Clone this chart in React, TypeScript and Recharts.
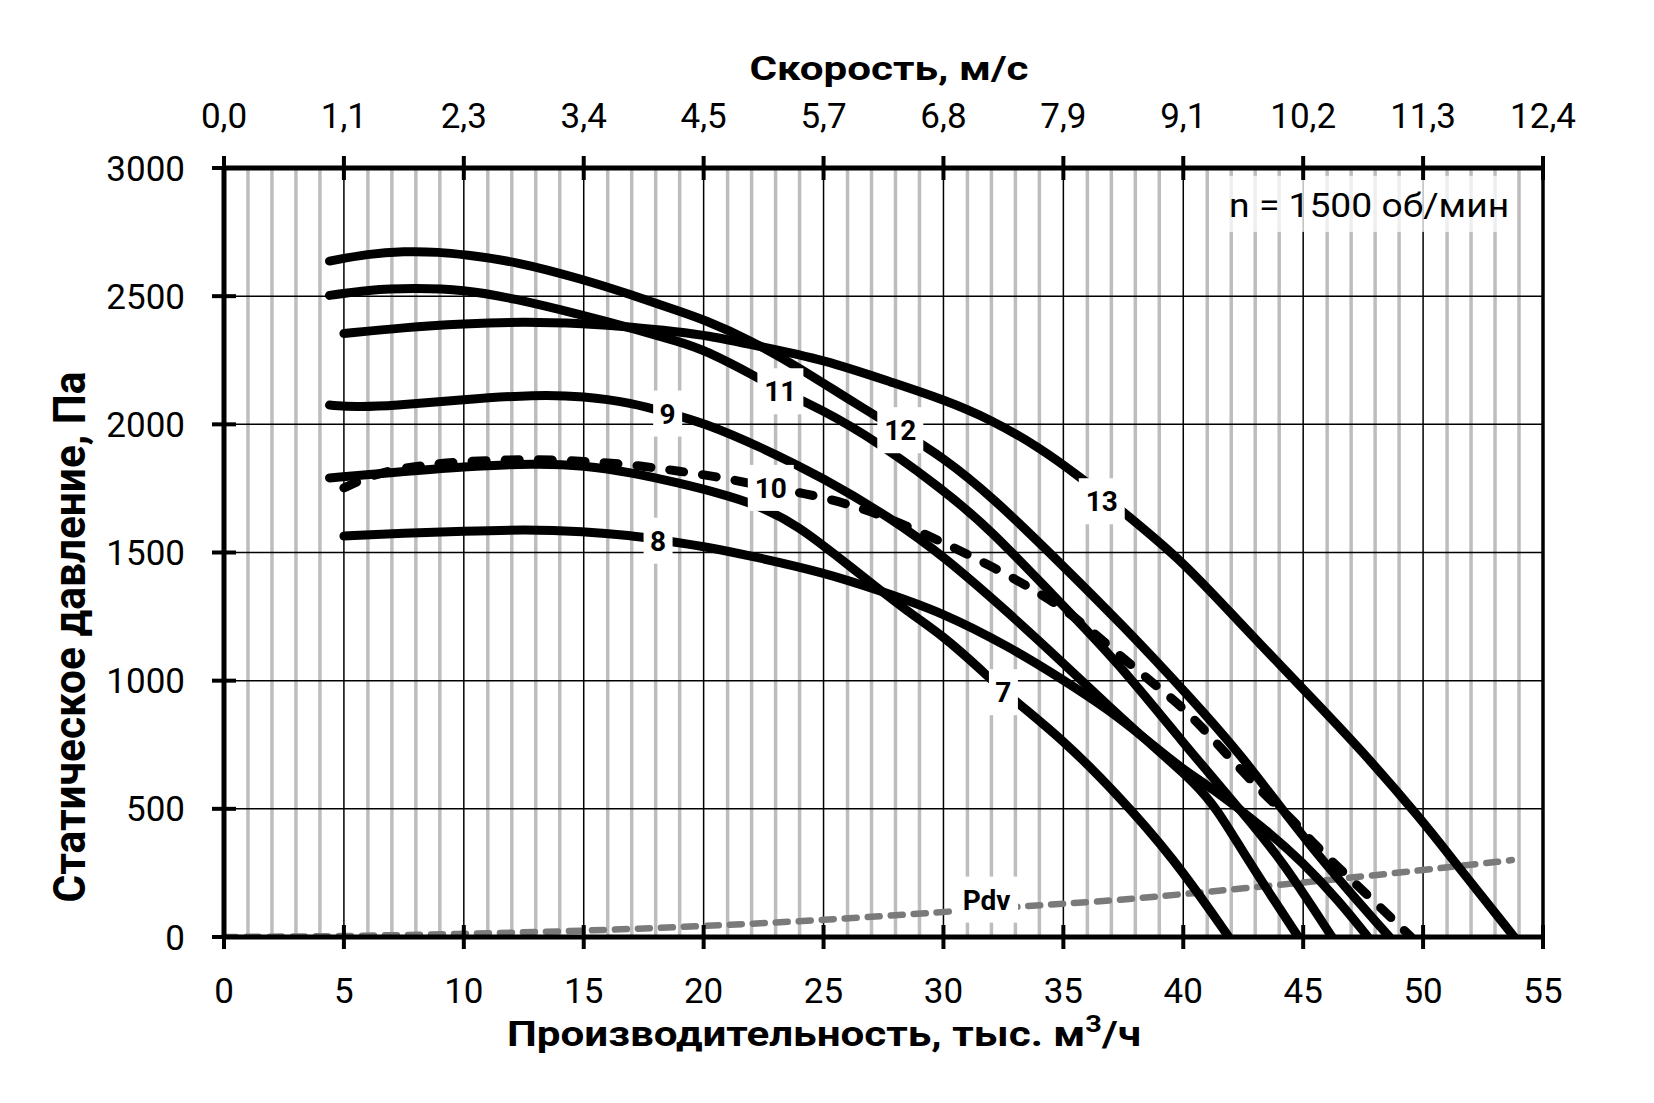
import React from 'react';
import { LineChart, Line, XAxis, YAxis, CartesianGrid, ReferenceDot, ReferenceLine } from 'recharts';

const FONT = 'Roboto, "Open Sans", sans-serif';

// оси
const flowTicks = [0, 5, 10, 15, 20, 25, 30, 35, 40, 45, 50, 55];
const speedLabels = ['0,0', '1,1', '2,3', '3,4', '4,5', '5,7', '6,8', '7,9', '9,1', '10,2', '11,3', '12,4'];
const pressureTicks = [0, 500, 1000, 1500, 2000, 2500, 3000];
const minorFlow = Array.from({ length: 56 }, (_, i) => i).filter((v) => v % 5 !== 0);

// характеристики, Q тыс. м3/ч -> Pst Па
const q7 = [4.4, 7, 10, 13, 15, 17, 19, 20.5, 22.3, 24, 25.5, 27, 28.5, 30, 31.5, 32.75, 35, 37.2, 39.55, 41.9];
const p7 = [1791, 1812, 1835, 1848, 1840, 1812, 1770, 1735, 1685, 1600, 1490, 1380, 1270, 1174, 1048, 938, 769, 561, 314, 0];

const q8 = [5, 7.5, 10, 12.5, 15, 17, 18.1, 20, 22.3, 25, 27.2, 30, 32.75, 35, 36.9, 38.3, 40, 41.1, 43.3, 45, 46.5, 47.7];
const p8 = [1564, 1576, 1583, 1590, 1583, 1566, 1550, 1525, 1480, 1422, 1356, 1265, 1132, 1003, 886, 782, 652, 587, 431, 290, 140, 0];

const q9 = [4.4, 5.5, 7, 10, 13, 15, 17, 18.5, 20, 22.3, 25, 27.9, 30, 32.75, 35, 36.9, 38.9, 40.5, 41.4, 42.5, 43.6, 44.8];
const p9 = [2075, 2068, 2072, 2097, 2116, 2110, 2084, 2045, 2006, 1915, 1791, 1629, 1486, 1262, 1068, 899, 730, 600, 500, 330, 170, 0];

const q10 = [5, 6, 7, 8.5, 10, 13, 15, 17, 19, 20.9, 22.8, 24.1, 25.9, 27.9, 30, 31.9, 35, 37, 39.4, 40.4, 43.4, 44.6, 45.25, 47.5, 49.5];
const p10 = [1752, 1795, 1822, 1842, 1856, 1865, 1856, 1843, 1817, 1791, 1752, 1733, 1694, 1629, 1538, 1453, 1291, 1125, 940, 860, 548, 457, 379, 180, 0];

const q11 = [4.4, 6, 7.9, 10, 12, 15, 17, 19, 20, 22.3, 23.2, 24.1, 26.5, 30, 32, 34.6, 37.2, 40, 42.5, 44.1, 46.2];
const p11 = [2503, 2525, 2532, 2526, 2493, 2425, 2375, 2322, 2292, 2181, 2129, 2095, 1980, 1746, 1585, 1330, 1080, 756, 483, 301, 0];

const q12 = [4.4, 6, 7.5, 9, 10, 12.1, 15, 17, 19, 20, 21.9, 24, 26, 28.2, 30, 32, 35, 37.5, 40, 42.5, 45.25, 48.6];
const p12 = [2637, 2665, 2675, 2672, 2662, 2637, 2565, 2505, 2441, 2409, 2331, 2220, 2100, 1975, 1870, 1720, 1447, 1213, 964, 704, 353, 0];

const q13 = [5, 7.5, 10, 12.5, 15, 17, 19, 20, 22.3, 25, 27.9, 30, 32, 34, 35.7, 37.6, 40, 42.5, 45, 47.5, 50, 51.1, 53.8];
const p13 = [2354, 2378, 2392, 2401, 2393, 2380, 2360, 2349, 2305, 2253, 2162, 2097, 2018, 1910, 1795, 1650, 1465, 1211, 967, 722, 450, 318, 0];

// динамическое давление
const qDyn = [0, 5, 10, 15, 20, 25, 30, 33, 35, 37.5, 40, 45, 50, 53.7];
const pDyn = [0, 3, 12, 24, 42, 66, 97, 118, 129, 146, 167, 212, 261, 300];

const zip = (q: number[], p: number[]) => q.map((x, i) => ({ x, y: p[i] }));

const fanCurves = [
  { key: 'c7', data: zip(q7, p7), dashed: false },
  { key: 'c8', data: zip(q8, p8), dashed: false },
  { key: 'c9', data: zip(q9, p9), dashed: false },
  { key: 'c11', data: zip(q11, p11), dashed: false },
  { key: 'c12', data: zip(q12, p12), dashed: false },
  { key: 'c13', data: zip(q13, p13), dashed: false },
  { key: 'c10', data: zip(q10, p10), dashed: true },
];

// подписи кривых (точка на графике)
const curveTags = [
  { text: '11', q: 23.2, p: 2129 },
  { text: '12', q: 28.2, p: 1977 },
  { text: '13', q: 36.6, p: 1700 },
  { text: '9', q: 18.5, p: 2042 },
  { text: '10', q: 22.8, p: 1752 },
  { text: '8', q: 18.1, p: 1546 },
  { text: '7', q: 32.5, p: 955 },
  { text: 'Pdv', q: 31.8, p: 146 },
];

const BottomTick = (props: any) => {
  const { x, y, payload } = props;
  return (
    <g>
      <line x1={x} x2={x} y1={y - 12} y2={y + 12} stroke="#000" strokeWidth={4} />
      <text x={x} y={y + 66} textAnchor="middle" fontSize={35} fill="#000" fontFamily={FONT}>
        {payload.value}
      </text>
    </g>
  );
};

const TopTick = (props: any) => {
  const { x, y, index } = props;
  return (
    <g>
      <line x1={x} x2={x} y1={y - 12} y2={y + 12} stroke="#000" strokeWidth={4} />
      <text x={x} y={y - 40} textAnchor="middle" fontSize={35} fill="#000" fontFamily={FONT}>
        {speedLabels[index]}
      </text>
    </g>
  );
};

const LeftTick = (props: any) => {
  const { x, y, payload } = props;
  return (
    <g>
      <line x1={x - 12} x2={x + 12} y1={y} y2={y} stroke="#000" strokeWidth={4} />
      <text x={x - 39} y={y + 12.5} textAnchor="end" fontSize={35} fill="#000" fontFamily={FONT}>
        {payload.value}
      </text>
    </g>
  );
};

const Tag = ({ cx, cy, text }: any) => {
  const w = text.length * 17 + 12;
  return (
    <g>
      <rect x={cx - w / 2} y={cy - 23} width={w} height={46} fill="#fff" />
      <text x={cx} y={cy + 10} textAnchor="middle" fontSize={28} fontWeight={700} fill="#000" fontFamily={FONT}>
        {text}
      </text>
    </g>
  );
};

const SpeedNote = ({ cx, cy }: any) => (
  <g>
    <rect x={cx - 146} y={cy - 29} width={293} height={56} fill="#fff" fillOpacity={0.75} />
    <text x={cx} y={cy + 12} textAnchor="middle" fontSize={34} fill="#000" fontFamily={FONT} textLength={280} lengthAdjust="spacingAndGlyphs">
      n = 1500 об/мин
    </text>
  </g>
);

const axisLine = { stroke: '#000', strokeWidth: 5 };

export default function App() {
  return (
    <div style={{ fontFamily: FONT, width: 1638, height: 1080 }}>
      <LineChart width={1638} height={1080} margin={{ top: 50, right: 103, bottom: 51, left: 76 }}>
        <CartesianGrid xAxisId="bottom" horizontal={false} verticalValues={minorFlow} stroke="#bdbdbd" strokeWidth={3.5} />
        <CartesianGrid xAxisId="bottom" verticalValues={flowTicks} horizontalValues={pressureTicks} stroke="#000" strokeWidth={1.5} />
        <XAxis
          xAxisId="bottom"
          type="number"
          dataKey="x"
          domain={[0, 55]}
          ticks={flowTicks}
          height={100}
          axisLine={axisLine}
          tickLine={false}
          tickSize={0}
          tickMargin={0}
          tick={<BottomTick />}
          interval={0}
          allowDataOverflow
          label={{
            content: () => (
              <text x={816} y={1038} textAnchor="middle" fontSize={35} fontWeight={700} fill="#000" fontFamily={FONT} textLength={634} lengthAdjust="spacingAndGlyphs">
                Производительность, тыс. м<tspan dy={-14} fontSize={24}>3</tspan><tspan dy={14}>/ч</tspan>
              </text>
            ),
          }}
        />
        <XAxis
          xAxisId="top"
          orientation="top"
          type="number"
          dataKey="x"
          domain={[0, 55]}
          ticks={flowTicks}
          height={110}
          axisLine={axisLine}
          tickLine={false}
          tickSize={0}
          tickMargin={0}
          tick={<TopTick />}
          interval={0}
          allowDataOverflow
          label={{
            content: () => (
              <text x={881} y={72} textAnchor="middle" fontSize={33} fontWeight={700} fill="#000" fontFamily={FONT} textLength={279} lengthAdjust="spacingAndGlyphs">
                Скорость, м/с
              </text>
            ),
          }}
        />
        <YAxis
          type="number"
          domain={[0, 3000]}
          ticks={pressureTicks}
          width={140}
          axisLine={axisLine}
          tickLine={false}
          tickSize={0}
          tickMargin={0}
          tick={<LeftTick />}
          interval={0}
          allowDataOverflow
          label={{
            content: () => (
              <text
                transform="translate(77,629) rotate(-90)"
                x={0}
                y={0}
                textAnchor="middle"
                fontSize={44}
                fontWeight={700}
                fill="#000"
                fontFamily={FONT}
                textLength={531}
                lengthAdjust="spacingAndGlyphs"
              >
                Статическое давление, Па
              </text>
            ),
          }}
        />
        <ReferenceLine xAxisId="bottom" x={55} stroke="#000" strokeWidth={3.5} />
        <Line
          xAxisId="bottom"
          data={zip(qDyn, pDyn)}
          dataKey="y"
          type="basis"
          stroke="#7a7a7a"
          strokeWidth={6.5}
          strokeDasharray="12 11"
          strokeLinecap="round"
          dot={false}
          activeDot={false}
          isAnimationActive={false}
        />
        {fanCurves.map((c) => (
          <Line
            key={c.key}
            xAxisId="bottom"
            data={c.data}
            dataKey="y"
            type="basis"
            stroke="#000"
            strokeWidth={9}
            strokeDasharray={c.dashed ? '14 19' : undefined}
            strokeLinecap="round"
            dot={false}
            activeDot={false}
            isAnimationActive={false}
          />
        ))}
        {curveTags.map((t) => (
          <ReferenceDot
            key={t.text}
            xAxisId="bottom"
            x={t.q}
            y={t.p}
            r={1}
            ifOverflow="visible"
            shape={(props: any) => <Tag {...props} text={t.text} />}
          />
        ))}
        <ReferenceDot xAxisId="bottom" x={47.75} y={2856} r={1} ifOverflow="visible" shape={(props: any) => <SpeedNote {...props} />} />
      </LineChart>
    </div>
  );
}
